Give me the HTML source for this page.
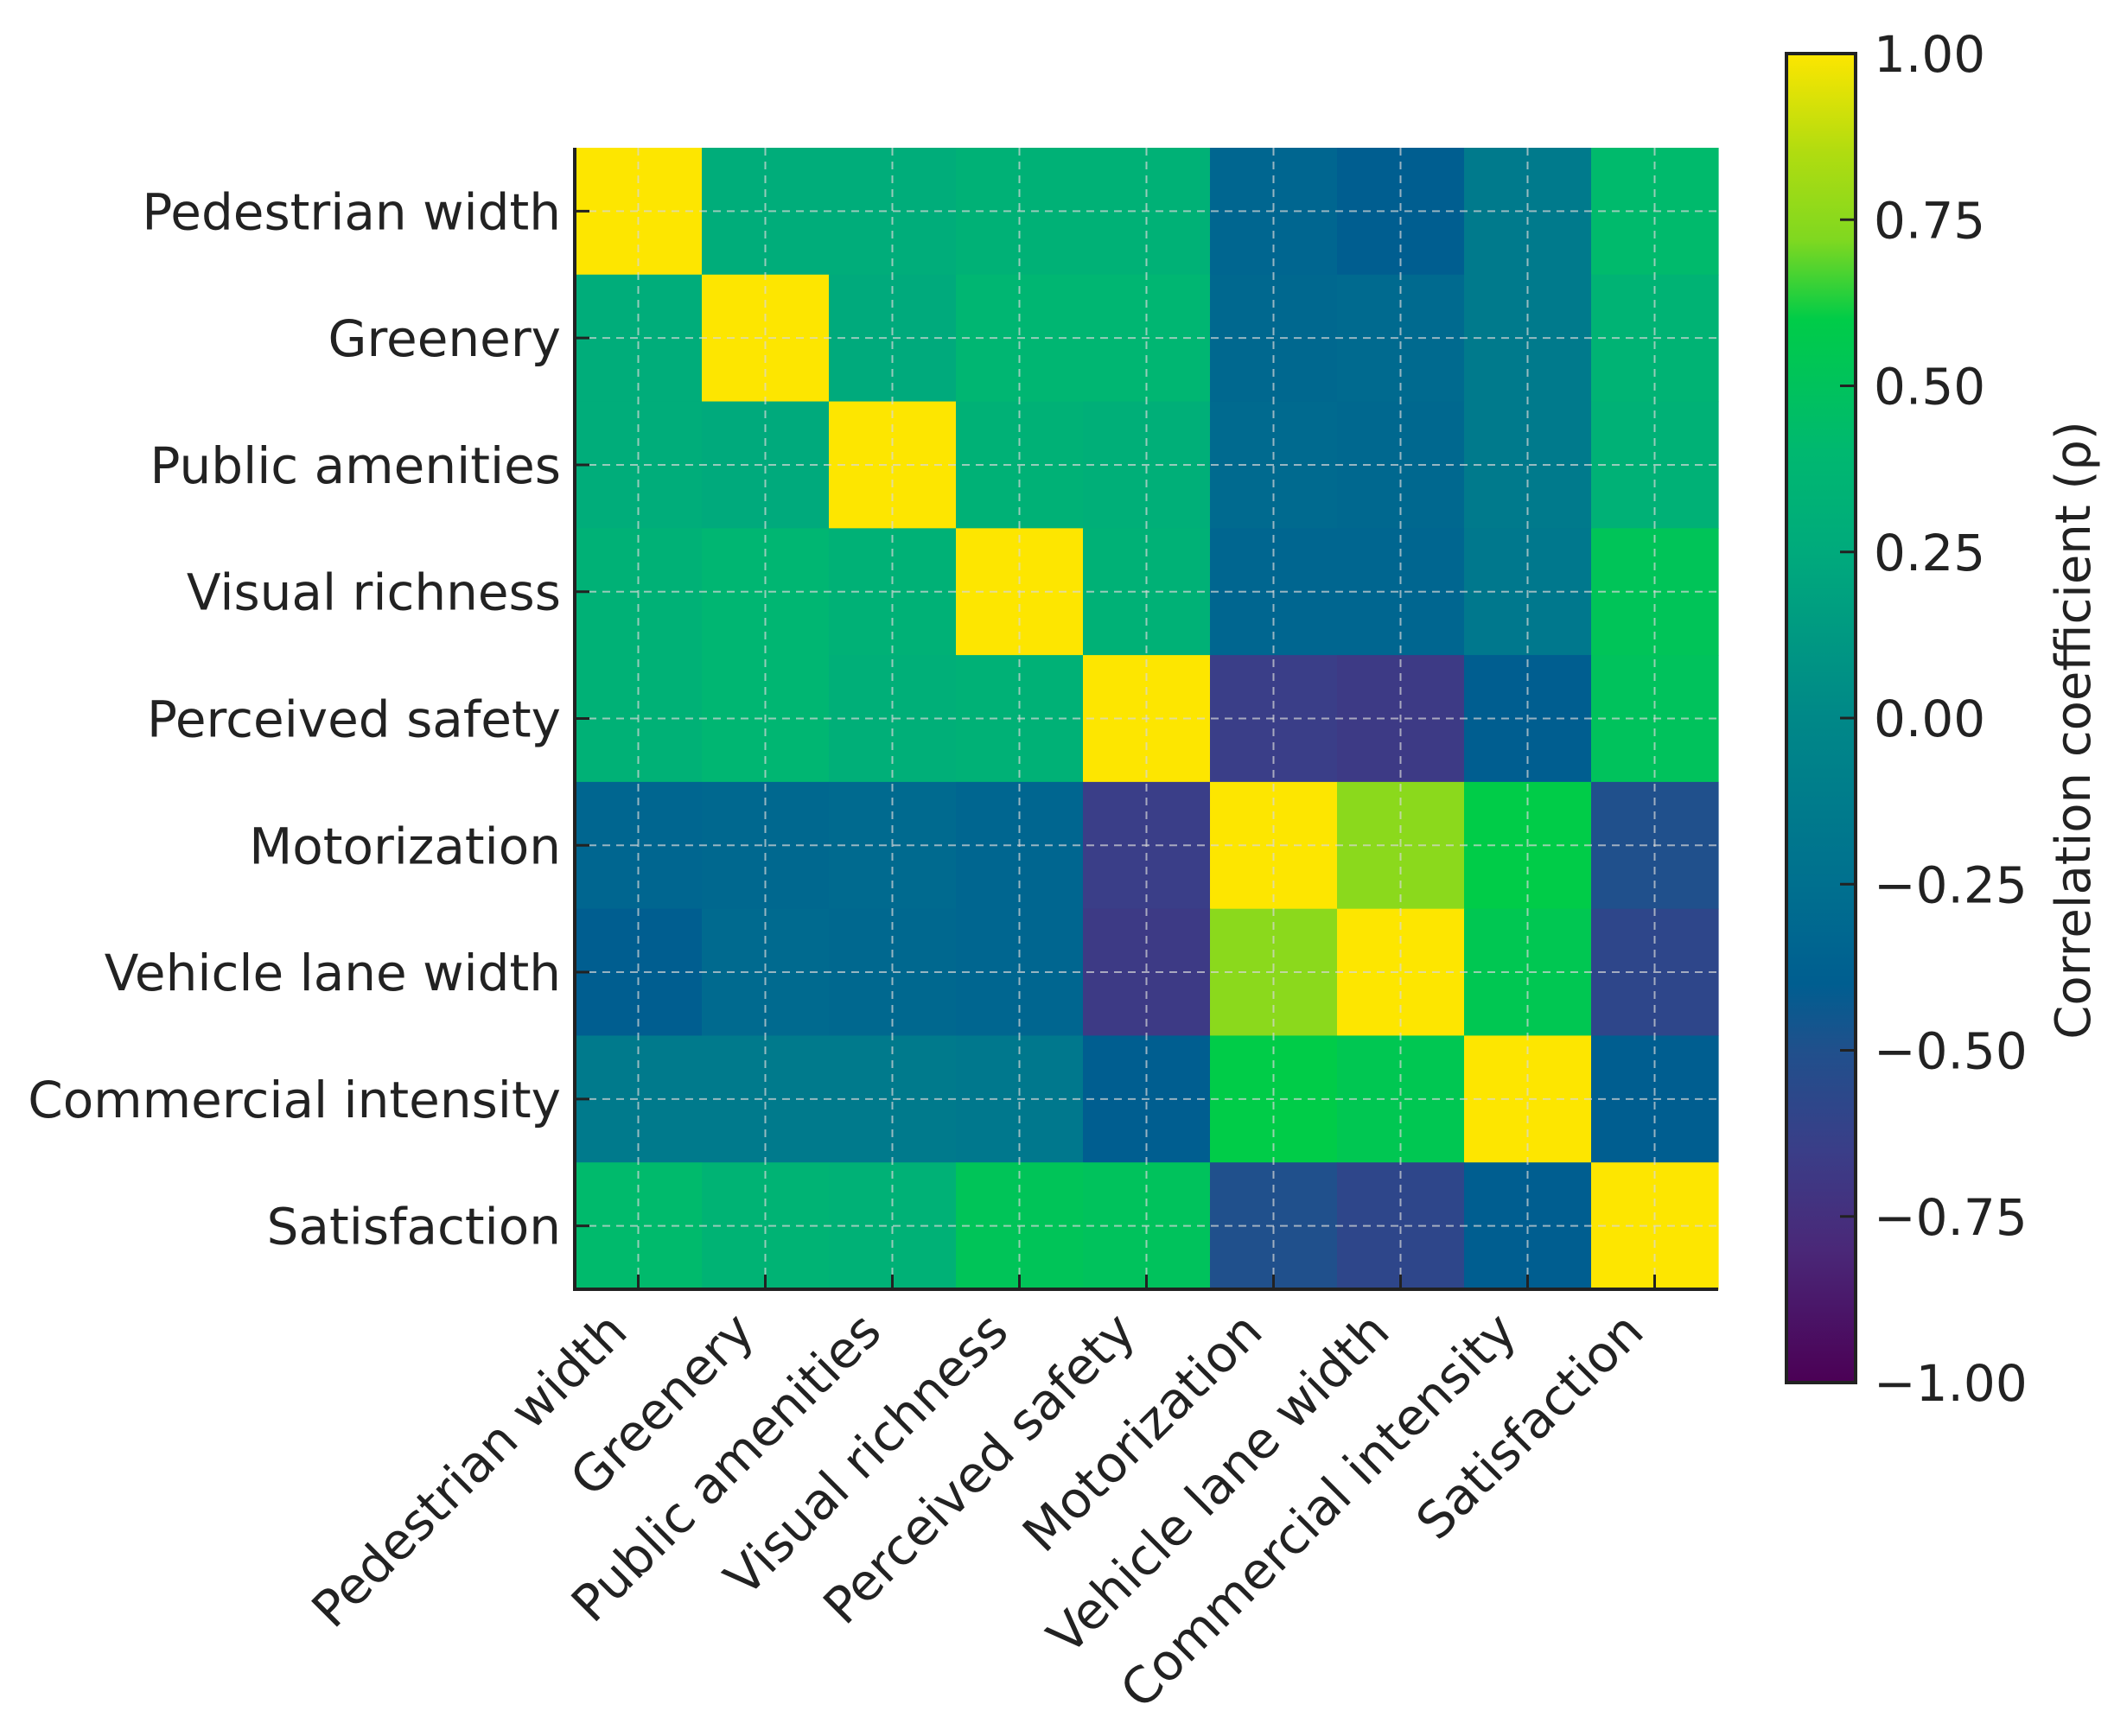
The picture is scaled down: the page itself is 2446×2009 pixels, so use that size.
<!DOCTYPE html>
<html>
<head>
<meta charset="utf-8">
<style>
  html, body { margin: 0; padding: 0; background: #ffffff; }
  svg { display: block; }
  text { font-family: "DejaVu Sans", "Liberation Sans", sans-serif; fill: #222222; }
</style>
</head>
<body>
<svg id="chart" width="2446" height="2009" viewBox="0 0 2446 2009" xmlns="http://www.w3.org/2000/svg">
  <defs>
    <linearGradient id="cbgrad" x1="0" y1="1" x2="0" y2="0">
      <stop offset="0" stop-color="#4b0055"/>
      <stop offset="0.1" stop-color="#4a2878"/>
      <stop offset="0.175" stop-color="#3a3e88"/>
      <stop offset="0.25" stop-color="#20508c"/>
      <stop offset="0.3" stop-color="#005e90"/>
      <stop offset="0.375" stop-color="#00708f"/>
      <stop offset="0.5" stop-color="#008888"/>
      <stop offset="0.625" stop-color="#00aa7c"/>
      <stop offset="0.7" stop-color="#00b870"/>
      <stop offset="0.8" stop-color="#00cc48"/>
      <stop offset="0.86" stop-color="#80d820"/>
      <stop offset="0.925" stop-color="#b0dc10"/>
      <stop offset="1" stop-color="#fde600"/>
    </linearGradient>
  </defs>
  <g id="cells"></g>
  <g id="grid"></g>
  <g id="axes"></g>
  <g id="colorbar"></g>
</svg>
<script>
const categories = ["Pedestrian width","Greenery","Public amenities","Visual richness","Perceived safety","Motorization","Vehicle lane width","Commercial intensity","Satisfaction"];
const rowPedestrian = [1.00, 0.28, 0.28, 0.32, 0.32, -0.33, -0.40, -0.15, 0.42];
const rowGreenery   = [0.28, 1.00, 0.25, 0.38, 0.38, -0.32, -0.30, -0.15, 0.35];
const rowAmenities  = [0.28, 0.25, 1.00, 0.33, 0.30, -0.30, -0.32, -0.15, 0.33];
const rowVisual     = [0.32, 0.38, 0.33, 1.00, 0.33, -0.33, -0.33, -0.17, 0.52];
const rowSafety     = [0.32, 0.38, 0.30, 0.33, 1.00, -0.65, -0.68, -0.40, 0.50];
const rowMotor      = [-0.33, -0.32, -0.30, -0.33, -0.65, 1.00, 0.75, 0.60, -0.50];
const rowLane       = [-0.40, -0.30, -0.32, -0.33, -0.68, 0.75, 1.00, 0.55, -0.58];
const rowCommercial = [-0.15, -0.15, -0.15, -0.17, -0.40, 0.60, 0.55, 1.00, -0.40];
const rowSatisfaction = [0.42, 0.35, 0.33, 0.52, 0.50, -0.50, -0.58, -0.40, 1.00];
const matrix = [rowPedestrian,rowGreenery,rowAmenities,rowVisual,rowSafety,rowMotor,rowLane,rowCommercial,rowSatisfaction];
const cbTicks = [1.00, 0.75, 0.50, 0.25, 0.00, -0.25, -0.50, -0.75, -1.00];
const cbTickLabels = ["1.00","0.75","0.50","0.25","0.00","\u22120.25","\u22120.50","\u22120.75","\u22121.00"];

const NS = "http://www.w3.org/2000/svg";
const PL = 665, PT = 171, PR = 1988, PB = 1492;
const n = categories.length;
const cw = (PR - PL) / n, ch = (PB - PT) / n;
const xPos = i => PL + i * cw;
const yPos = i => PT + i * ch;
const CBL = 2067, CBR = 2147, CBT = 62, CBB = 1600;
const cbY = v => CBB - (v + 1) / 2 * (CBB - CBT);
const FS = 58;

const stops = [
  [-1.0,[0x4b,0x00,0x55]],[-0.8,[0x4a,0x28,0x78]],[-0.65,[0x3a,0x3e,0x88]],[-0.5,[0x20,0x50,0x8c]],
  [-0.4,[0x00,0x5e,0x90]],[-0.25,[0x00,0x70,0x8f]],[0.0,[0x00,0x88,0x88]],[0.25,[0x00,0xaa,0x7c]],
  [0.4,[0x00,0xb8,0x70]],[0.6,[0x00,0xcc,0x48]],[0.72,[0x80,0xd8,0x20]],[0.85,[0xb0,0xdc,0x10]],[1.0,[0xfd,0xe6,0x00]]
];
function cmap(v){
  v = Math.max(-1, Math.min(1, v));
  for (let k = 0; k < stops.length - 1; k++){
    const [a, ca] = stops[k], [b, cb] = stops[k+1];
    if (v >= a && v <= b){
      const t = (v - a) / (b - a);
      const c = ca.map((x, j) => Math.round(x + (cb[j] - x) * t));
      return "rgb(" + c.join(",") + ")";
    }
  }
  return "rgb(253,230,0)";
}
function mk(tag, attrs, parent){
  const el = document.createElementNS(NS, tag);
  for (const k in attrs) el.setAttribute(k, attrs[k]);
  parent.appendChild(el);
  return el;
}

const cells = document.getElementById("cells");
for (let r = 0; r < n; r++){
  for (let c = 0; c < n; c++){
    const rect = mk("rect", {x: xPos(c), y: yPos(r), width: cw + 0.6, height: ch + 0.6, fill: cmap(matrix[r][c])}, cells);
    
    
  }
}

const grid = document.getElementById("grid");
for (let i = 0; i < n; i++){
  const cx = xPos(i) + cw / 2, cy = yPos(i) + ch / 2;
  const gv = mk("line", {x1: cx, y1: PT, x2: cx, y2: PB, stroke: "rgba(215,215,215,0.7)", "stroke-width": 2, "stroke-dasharray": "9,7"}, grid);
  
  
  const gh = mk("line", {x1: PL, y1: cy, x2: PR, y2: cy, stroke: "rgba(215,215,215,0.7)", "stroke-width": 2, "stroke-dasharray": "9,7"}, grid);
  
  
}

const axes = document.getElementById("axes");
const ly = mk("line", {x1: PL, y1: PT, x2: PL, y2: PB + 2, stroke: "#222", "stroke-width": 4}, axes);


const lx = mk("line", {x1: PL - 2, y1: PB, x2: PR, y2: PB, stroke: "#222", "stroke-width": 4}, axes);



for (let i = 0; i < n; i++){
  const cy = yPos(i) + ch / 2;
  const ty = mk("line", {x1: PL, y1: cy, x2: PL + 17, y2: cy, stroke: "#222", "stroke-width": 3}, axes);
  
  
  const yl = mk("text", {x: PL - 16, y: cy + 21, "text-anchor": "end", "font-size": FS}, axes);
  yl.textContent = categories[i];
  
  

  const cx = xPos(i) + cw / 2;
  const tx = mk("line", {x1: cx, y1: PB, x2: cx, y2: PB - 17, stroke: "#222", "stroke-width": 3}, axes);
  
  
  const ax = cx - 10, ay = PB + 52;
  const xl = mk("text", {x: ax, y: ay, "text-anchor": "end", "font-size": FS, transform: "rotate(-45 " + ax + " " + ay + ")"}, axes);
  xl.textContent = categories[i];
  
  
}

const cb = document.getElementById("colorbar");
const cbr = mk("rect", {x: CBL, y: CBT, width: CBR - CBL, height: CBB - CBT, fill: "url(#cbgrad)", stroke: "#222", "stroke-width": 4}, cb);


for (let k = 0; k < cbTicks.length; k++){
  const y = cbY(cbTicks[k]);
  if (k > 0 && k < cbTicks.length - 1){
    const t = mk("line", {x1: CBR - 18, y1: y, x2: CBR, y2: y, stroke: "#222", "stroke-width": 3}, cb);
    
    
  }
  const lab = mk("text", {x: 2168, y: y + 21, "font-size": FS}, cb);
  lab.textContent = cbTickLabels[k];
  
  
}
const title = mk("text", {x: 2418, y: 845, "text-anchor": "middle", "font-size": 56, transform: "rotate(-90 2418 845)"}, cb);
title.textContent = "Correlation coefficient (\u03c1)";


</script>
</body>
</html>
